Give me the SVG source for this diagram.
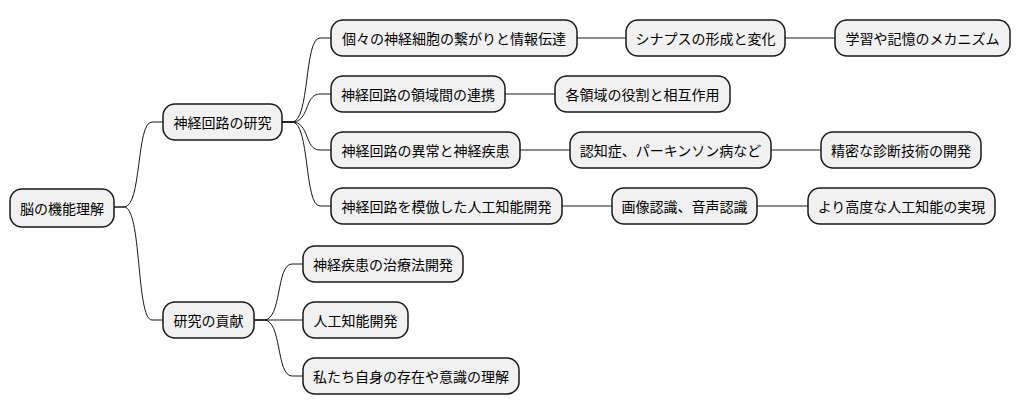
<svg xmlns="http://www.w3.org/2000/svg" width="1020" height="415" viewBox="0 0 1020 415">
<style>
.n rect{fill:#F1F1F1;stroke:#181818;stroke-width:1.5}
.n text{font-family:"Noto Sans CJK JP","Liberation Sans",sans-serif;font-size:14px;fill:#000;text-anchor:middle;dominant-baseline:central}
.c path{fill:none;stroke:#181818;stroke-width:1}
</style>
<rect width="1020" height="415" fill="#fff"/>
<g class="c">
<path d="M114,207 L124,207 C142,207 136,122 152,122 L163,122"/>
<path d="M114,207 L124,207 C142,207 136,320 152,320 L163,320"/>
<path d="M282,122 L292,122 C310,122 304,38 320,38 L331,38"/>
<path d="M282,122 L292,122 C310,122 304,94 320,94 L331,94"/>
<path d="M282,122 L292,122 C310,122 304,150 320,150 L331,150"/>
<path d="M282,122 L292,122 C310,122 304,206 320,206 L331,206"/>
<path d="M254,320 L264,320 C282,320 276,264 292,264 L303,264"/>
<path d="M254,320 L303,320"/>
<path d="M254,320 L264,320 C282,320 276,376 292,376 L303,376"/>
<path d="M577,38 L626,38"/>
<path d="M785,38 L835,38"/>
<path d="M505,94 L555,94"/>
<path d="M520,150 L570,150"/>
<path d="M771,150 L821,150"/>
<path d="M562,206 L612,206"/>
<path d="M757,206 L808,206"/>
</g>
<g id="root" class="n"><rect x="10" y="189" width="104" height="38" rx="12"/><text x="62" y="208">脳の機能理解</text></g>
<g id="research" class="n"><rect x="163" y="104" width="119" height="36" rx="12"/><text x="222.5" y="122">神経回路の研究</text></g>
<g id="contrib" class="n"><rect x="163" y="302" width="91" height="36" rx="12"/><text x="208.5" y="320">研究の貢献</text></g>
<g id="n1" class="n"><rect x="331" y="20" width="246" height="36" rx="12"/><text x="454" y="38">個々の神経細胞の繋がりと情報伝達</text></g>
<g id="n2" class="n"><rect x="331" y="76" width="174" height="36" rx="12"/><text x="418" y="94">神経回路の領域間の連携</text></g>
<g id="n3" class="n"><rect x="331" y="132" width="189" height="36" rx="12"/><text x="425.5" y="150">神経回路の異常と神経疾患</text></g>
<g id="n4" class="n"><rect x="331" y="188" width="231" height="36" rx="12"/><text x="446.5" y="206">神経回路を模倣した人工知能開発</text></g>
<g id="n1a" class="n"><rect x="626" y="20" width="159" height="36" rx="12"/><text x="705.5" y="38">シナプスの形成と変化</text></g>
<g id="n1b" class="n"><rect x="835" y="20" width="175" height="36" rx="12"/><text x="922.5" y="38">学習や記憶のメカニズム</text></g>
<g id="n2a" class="n"><rect x="555" y="76" width="175" height="36" rx="12"/><text x="642.5" y="94">各領域の役割と相互作用</text></g>
<g id="n3a" class="n"><rect x="570" y="132" width="201" height="36" rx="12"/><text x="670.5" y="150">認知症、パーキンソン病など</text></g>
<g id="n3b" class="n"><rect x="821" y="132" width="160" height="36" rx="12"/><text x="901" y="150">精密な診断技術の開発</text></g>
<g id="n4a" class="n"><rect x="612" y="188" width="145" height="36" rx="12"/><text x="684.5" y="206">画像認識、音声認識</text></g>
<g id="n4b" class="n"><rect x="808" y="188" width="187" height="36" rx="12"/><text x="901.5" y="206">より高度な人工知能の実現</text></g>
<g id="c1" class="n"><rect x="303" y="246" width="160" height="36" rx="12"/><text x="383" y="264">神経疾患の治療法開発</text></g>
<g id="c2" class="n"><rect x="303" y="302" width="105" height="36" rx="12"/><text x="355.5" y="320">人工知能開発</text></g>
<g id="c3" class="n"><rect x="303" y="358" width="216" height="36" rx="12"/><text x="411" y="376">私たち自身の存在や意識の理解</text></g>
</svg>
